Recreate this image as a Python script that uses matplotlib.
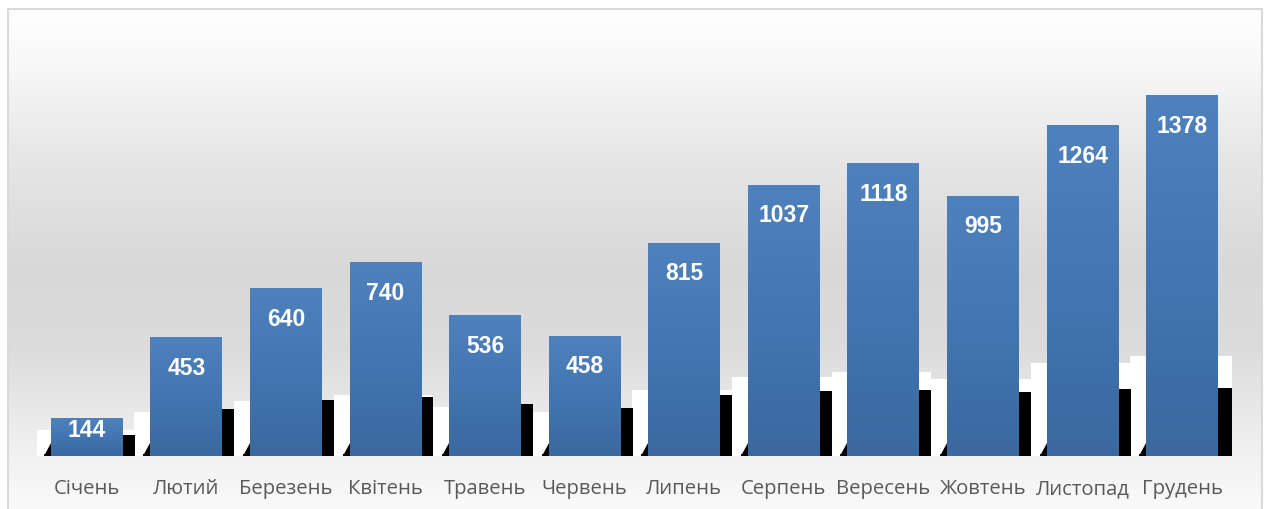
import numpy as np
import matplotlib
matplotlib.use("Agg")
import matplotlib.pyplot as plt
from matplotlib.colors import LinearSegmentedColormap
from matplotlib.patches import Rectangle, Polygon

months = ["Січень", "Лютий", "Березень", "Квітень", "Травень", "Червень",
          "Липень", "Серпень", "Вересень", "Жовтень", "Листопад", "Грудень"]
values = [144, 453, 640, 740, 536, 458, 815, 1037, 1118, 995, 1264, 1378]

W, H, DPI = 1264, 510, 100
fig = plt.figure(figsize=(W / DPI, H / DPI), dpi=DPI)
fig.patch.set_facecolor("white")

# background chart area gradient
bg = fig.add_axes([0, 0, 1, 1], zorder=0)
bg.set_xlim(0, W)
bg.set_ylim(H, 0)
bg.axis("off")
stops = [(0.0, "#ffffff"), (0.12, "#f7f7f7"), (0.30, "#e6e6e6"),
         (0.52, "#d8d8d8"), (0.68, "#dcdcdc"), (0.86, "#eeeeee"), (1.0, "#fafafa")]
bgcmap = LinearSegmentedColormap.from_list("bg", stops)
grad = np.linspace(0, 1, 256).reshape(-1, 1)
bg.imshow(grad, cmap=bgcmap, extent=[7, 1262, H, 9], aspect="auto",
          interpolation="bicubic", zorder=0)
bg.plot([7.5, 7.5, 1261.5, 1261.5], [H, 9.5, 9.5, H], color="#d9d9d9", lw=1.5, zorder=1)

# main axes
ax = fig.add_axes([37 / W, (H - 457) / H, (1232 - 37) / W, (457 - 39) / H], zorder=1)
ax.patch.set_alpha(0)
ymax = 1600
n = len(values)
x = np.arange(n)
bw = 0.723
px = ymax / 418.0  # data units per pixel (vertical)

barcmap = LinearSegmentedColormap.from_list("bar", ["#4f81bd", "#4376b1", "#3b689f"])
for i, v in enumerate(values):
    L, R = x[i] - bw / 2, x[i] + bw / 2
    last = i == n - 1
    # white reflection block
    wh = (17 + 0.06 * v) * px
    ax.add_patch(Rectangle((L - 0.16, 0), (R + (0.17 if last else 0.12)) - (L - 0.16), wh,
                           facecolor="white", edgecolor="none", zorder=1))
    # black shadow
    sh = 70 * (1 - np.exp(-v / 400.0)) * px
    ax.add_patch(Rectangle((R, 0), 0.17 if last else 0.12, sh,
                           facecolor="black", edgecolor="none", zorder=2))
    ax.add_patch(Polygon([(L - 0.07, 0), (L, 0), (L, 13 * px)], closed=True,
                         facecolor="black", edgecolor="none", zorder=2))
    ax.add_patch(Rectangle((L - 0.07, 0), (R + 0.12) - (L - 0.07), 2 * px,
                           facecolor="black", edgecolor="none", zorder=2))
    # gradient bar
    ax.imshow(np.linspace(0, 1, 128).reshape(-1, 1), cmap=barcmap,
              extent=[L, R, 0, v], aspect="auto", origin="upper", zorder=3)
    # label
    ly = max(v - 113, v * 0.7)
    ax.text(x[i], ly, str(v), ha="center", va="center", color="white",
            fontsize=16.5, fontweight="bold", family="Liberation Sans", zorder=5)

ax.set_xlim(-0.5, n - 0.5)
ax.set_ylim(0, ymax)
ax.set_xticks(x)
ax.set_xticklabels(months, fontsize=14.6, color="#595959", family="Open Sans")
ax.tick_params(axis="x", length=0, pad=16)
ax.set_yticks([])
for s in ax.spines.values():
    s.set_visible(False)

fig.savefig("out.png", dpi=DPI)
